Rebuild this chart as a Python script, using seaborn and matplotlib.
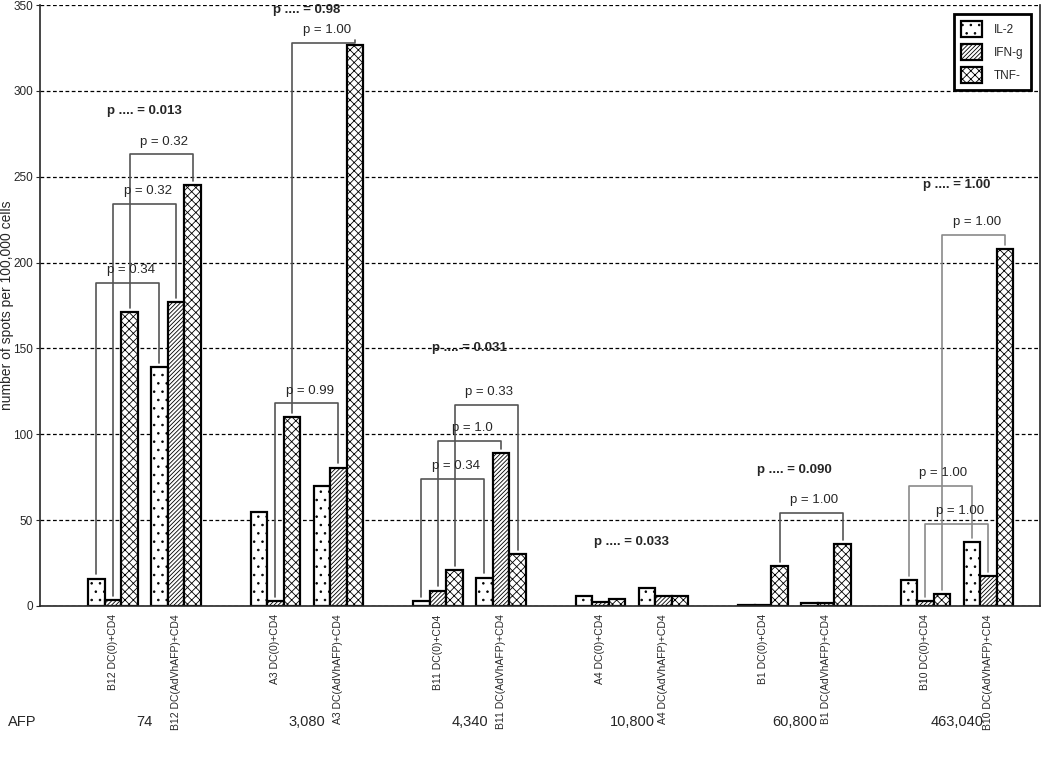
import numpy as np
import pandas as pd
import matplotlib
matplotlib.use("Agg")
import matplotlib.pyplot as plt
import matplotlib.patches as mpatches
import matplotlib.transforms as mtransforms
import seaborn as sns

# data
samples = ["B12 DC(0)+CD4", "B12 DC(AdVhAFP)+CD4",
           "A3 DC(0)+CD4", "A3 DC(AdVhAFP)+CD4",
           "B11 DC(0)+CD4", "B11 DC(AdVhAFP)+CD4",
           "A4 DC(0)+CD4", "A4 DC(AdVhAFP)+CD4",
           "B1 DC(0)+CD4", "B1 DC(AdVhAFP)+CD4",
           "B10 DC(0)+CD4", "B10 DC(AdVhAFP)+CD4"]
cytokines = ["IL-2", "IFN-g", "TNF-"]
il2 = [16, 139, 55, 70, 3, 16.5, 6, 10.5, 0.5, 1.5, 15, 37]
ifng = [3.5, 177, 3, 80.5, 9, 89, 2.5, 6, 0.5, 1.5, 3, 17.5]
tnf = [171, 245, 110, 327, 21, 30, 4, 6, 23, 36, 7, 208]
afp = ["74", "3,080", "4,340", "10,800", "60,800", "463,040"]

# pairwise comparisons: (patient pair, cytokine index, bracket height, label)
pairs = [(0, 0, 188, "p = 0.34"), (0, 1, 234, "p = 0.32"), (0, 2, 263, "p = 0.32"),
         (1, 1, 118, "p = 0.99"), (1, 2, 328, "p = 1.00"),
         (2, 0, 74, "p = 0.34"), (2, 1, 96, "p = 1.0"), (2, 2, 117, "p = 0.33"),
         (4, 2, 54, "p = 1.00"),
         (5, 0, 70, "p = 1.00"), (5, 1, 48, "p = 1.00"), (5, 2, 216, "p = 1.00")]
# overall p per patient: (patient, height, value)
overall = [(0, 288, "0.013"), (1, 347, "0.98"), (2, 150, "0.031"),
           (3, 37, "0.033"), (4, 79, "0.090"), (5, 245, "1.00")]

sns.set_style("ticks")
plt.rcParams["font.family"] = ["Liberation Sans", "DejaVu Sans"]
plt.rcParams["hatch.linewidth"] = 0.6

idx = np.arange(len(samples))
pos = (idx // 2) * 2.58 + (idx % 2)
df = pd.DataFrame({"sample": samples, "pos": pos, "IL-2": il2, "IFN-g": ifng, "TNF-": tnf})
long = df.melt(id_vars=["sample", "pos"], value_vars=cytokines,
               var_name="cytokine", value_name="spots")

fig = plt.figure(figsize=(10.5, 7.59), dpi=100)
ax = fig.add_axes([0.038, 0.2016, 0.952, 0.7918])

bw = 0.79
sns.barplot(data=long, x="pos", y="spots", hue="cytokine", hue_order=cytokines,
            native_scale=True, palette=["white"] * 3, edgecolor="black",
            linewidth=1.6, width=bw, gap=0, errorbar=None, legend=False, ax=ax)

hatches = ["..", "////////", "xxxx"]
hcols = ["#999999", "#333333", "black"]
for cont, h, hc in zip(ax.containers, hatches, hcols):
    for bar in cont:
        bar.set_hatch(h)
        if hasattr(bar, "set_hatchcolor"):
            bar.set_hatchcolor(hc)

ax.set_ylim(0, 350)
ax.set_xlim(-1.16, 14.71)
ax.set_yticks(np.arange(0, 351, 50))
ax.yaxis.grid(True, color="black", linestyle=(0, (3, 2)), linewidth=0.9)
ax.set_axisbelow(True)
ax.set_xticks(pos)
ax.set_xticklabels(samples, rotation=90, fontsize=7.5)
ax.tick_params(axis="x", length=0, pad=6)
ax.tick_params(axis="y", length=3, labelsize=8.5, pad=2)
ax.set_xlabel("")
ax.set_ylabel("number of spots per 100,000 cells", fontsize=10)
ax.yaxis.set_label_coords(-0.026, 0.5)
ax.spines["top"].set_visible(False)
for s in ["left", "right", "bottom"]:
    ax.spines[s].set_linewidth(1.2)

vals = np.array([il2, ifng, tnf])
off = [(k - 1) * bw / 3 for k in range(3)]

# brackets
for p, k, h, lab in pairs:
    x0 = pos[2 * p] + off[k]
    x1 = pos[2 * p + 1] + off[k]
    y0 = vals[k][2 * p] + 2.5
    y1 = vals[k][2 * p + 1] + 2.5
    col = "#8a8a8a" if p == 5 else "#555555"
    ax.plot([x0, x0, x1, x1], [y0, h, h, y1], color=col, lw=1.2, zorder=1)
    ax.text((x0 + x1) / 2 + 0.05, h + 4, lab, ha="center", va="bottom", fontsize=9.5)

for p, h, v in overall:
    xc = (pos[2 * p] + pos[2 * p + 1]) / 2
    ax.text(xc, h, "p .... = " + v, ha="center", va="center",
            fontsize=9.5, fontweight="bold")

# AFP row
trans = mtransforms.blended_transform_factory(ax.transData, ax.transAxes)
for p, v in enumerate(afp):
    xc = (pos[2 * p] + pos[2 * p + 1]) / 2
    ax.text(xc, -0.193, v, transform=trans, ha="center", va="center", fontsize=10.5)
fig.text(0.008, 1 - 722 / 759, "AFP", ha="left", va="center", fontsize=10.5)

handles = [mpatches.Patch(facecolor="white", edgecolor="black", hatch=h, linewidth=1.6)
           for h in hatches]
leg = ax.legend(handles, cytokines, loc="upper right", frameon=True, fancybox=False,
                edgecolor="black", framealpha=1, fontsize=8.5, handlelength=1.8,
                handleheight=1.7, borderpad=0.6, labelspacing=0.6, handletextpad=1.0,
                bbox_to_anchor=(0.997, 0.995))
leg.get_frame().set_linewidth(2)
for lh, hc in zip(leg.get_patches(), hcols):
    if hasattr(lh, "set_hatchcolor"):
        lh.set_hatchcolor(hc)

fig.savefig("out.png", dpi=100)
